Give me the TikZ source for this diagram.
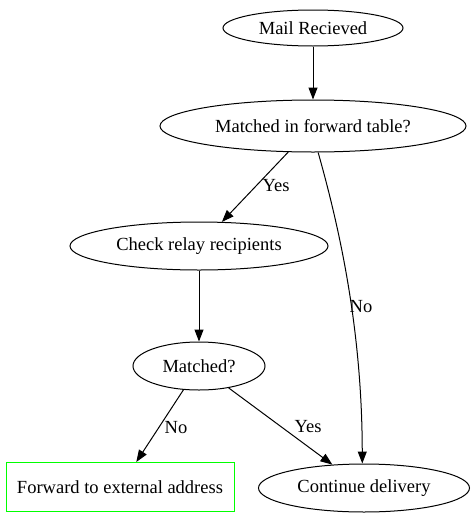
\documentclass[tikz,border=0pt]{standalone}
\usepackage{fontspec}
\setmainfont{Liberation Serif}
\usetikzlibrary{shapes.geometric,arrows.meta}
\begin{document}
\begin{tikzpicture}[x=1pt,y=-1pt,
  ell/.style={draw,line width=1pt,ellipse,inner sep=0pt,font=\fontsize{18.5}{20}\selectfont},
  box/.style={draw=green,line width=1pt,rectangle,inner sep=0pt,font=\fontsize{18.5}{20}\selectfont},
  lbl/.style={font=\fontsize{18.5}{20}\selectfont,inner sep=1pt},
  edge/.style={draw,line width=1pt,-{Triangle[length=12pt,width=9pt]}}]
\useasboundingbox (0,0) rectangle (475,517);
\node[ell,minimum width=180pt,minimum height=36pt] (mail) at (313,28) {Mail Recieved};
\node[ell,minimum width=306pt,minimum height=52pt] (fwd) at (313,126) {Matched in forward table?};
\node[ell,minimum width=258pt,minimum height=48pt] (relay) at (199,246) {Check relay recipients};
\node[ell,minimum width=132pt,minimum height=48pt] (match) at (199,366) {Matched?};
\node[box,minimum width=228pt,minimum height=49pt] (ext) at (120,487) {Forward to external address};
\node[ell,minimum width=211pt,minimum height=48pt] (cont) at (364,488) {Continue delivery};
\draw[edge] (mail) -- (fwd);
\draw[edge] (fwd) -- (relay);
\draw[edge] (relay) -- (match);
\draw[edge] (match) -- (ext);
\draw[edge] (match) -- (cont);
\draw[edge] (fwd.-79) .. controls (340,230) and (362,330) .. (cont.94);
\node[lbl] (l1) at (276,186) {Yes};
\node[lbl] (l2) at (361,307) {No};
\node[lbl] (l3) at (176,428) {No};
\node[lbl] (l4) at (308,427) {Yes};
\end{tikzpicture}
\end{document}
